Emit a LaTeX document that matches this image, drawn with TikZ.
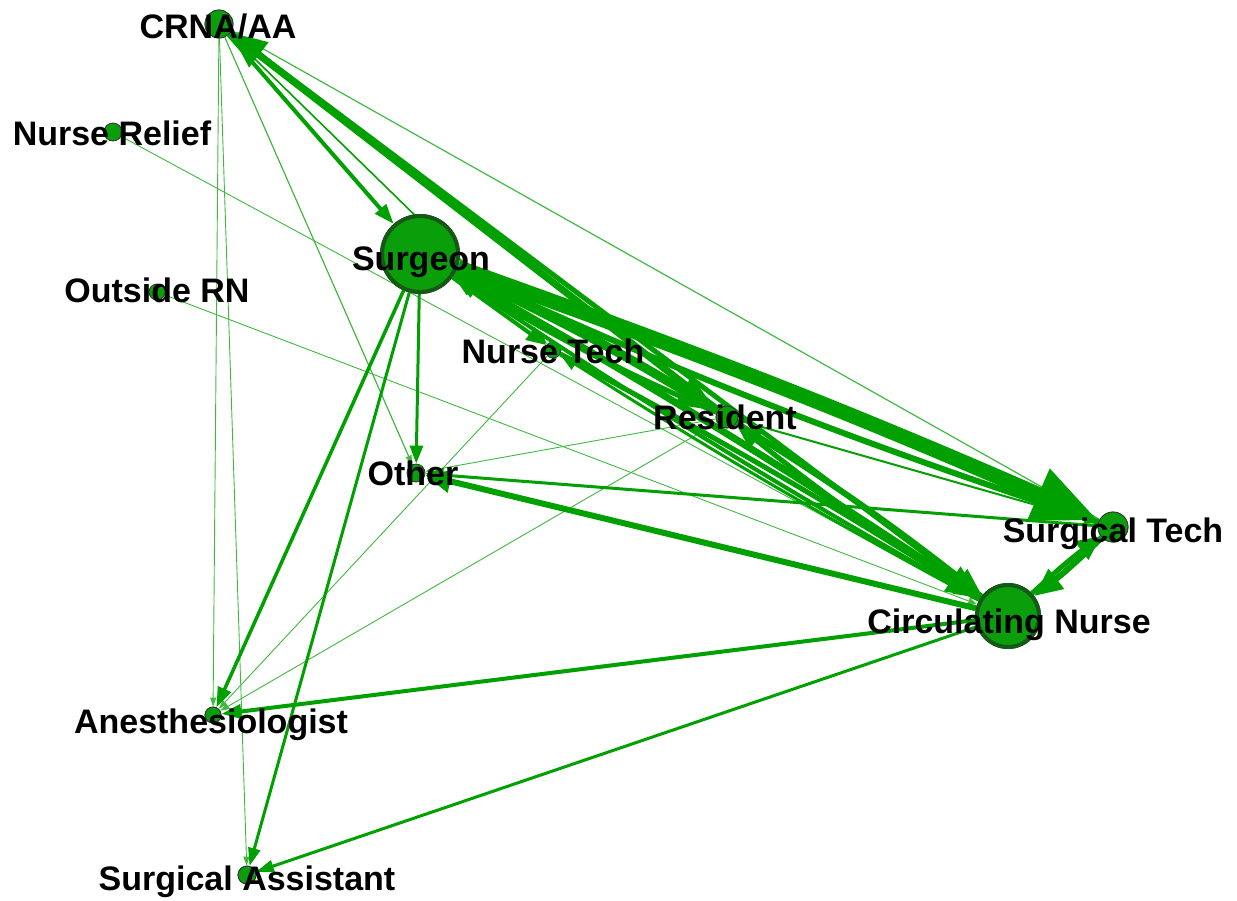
\documentclass[tikz,border=0pt]{standalone}
\usepackage{fontspec}
\setmainfont{Liberation Sans}
\usetikzlibrary{arrows.meta}
\definecolor{edgegreen}{RGB}{0,160,0}
\definecolor{nodegreen}{RGB}{10,158,10}
\definecolor{rimgreen}{RGB}{22,88,22}
\begin{document}
\begin{tikzpicture}[x=1pt,y=-1pt,
  vert/.style={circle,draw=black!80,line width=0.8pt,fill=nodegreen,inner sep=0pt,minimum size=#1},
  bigvert/.style={circle,draw=rimgreen,line width=4pt,fill=nodegreen,inner sep=0pt,minimum size=#1},
  lbl/.style={anchor=base,font=\fontsize{34}{40}\selectfont\bfseries,text=black,inner sep=0pt},
  rel/.style n args={3}{draw=edgegreen,line width=#1,-{Triangle[length=#2,width=#3]}},
  faint/.style={draw=edgegreen!75,line width=0.9,-{Triangle[length=9,width=6]}},
]
\useasboundingbox (0,0) rectangle (1237,900);

% actors
\node[vert=28] (crna)  at (219,24)  {};
\node[vert=18] (nrel)  at (113,132) {};
\node[vert=16] (orn)   at (157,292) {};
\node[bigvert=76] (surg) at (420,254) {};
\node[vert=16] (nt)    at (553,350) {};
\node[vert=22] (res)   at (727,417) {};
\node[vert=18] (oth)   at (416,473) {};
\node[vert=30] (st)    at (1113,527) {};
\node[bigvert=62] (circ) at (1008,616) {};
\node[vert=16] (anes)  at (213,715) {};
\node[vert=18] (sa)    at (247,875) {};

% weak ties
\draw[faint] (crna) -- (anes);
\draw[faint] (crna) -- (sa);
\draw[faint,line width=1.2] (crna) -- (oth);
\draw[faint,line width=1.2] (st) -- (crna);
\draw[rel={1.6}{12}{8}] (crna) -- (nt);
\draw[faint] (nrel) -- (circ);
\draw[faint] (orn) -- (circ);
\draw[faint] (nt) -- (anes);
\draw[faint] (res) -- (anes);
\draw[faint] (res) -- (oth);
\draw[rel={2}{14}{10}] (res) -- (st);

% medium ties
\draw[rel={4}{20}{14}] (crna) -- (surg);
\draw[rel={3}{18}{13}] (surg) -- (oth);
\draw[rel={3.5}{20}{14}] (surg) -- (anes);
\draw[rel={3}{18}{12}] (surg) -- (sa);
\draw[rel={4}{20}{14}] (circ) -- (anes);
\draw[rel={3}{18}{12}] (circ) -- (sa);
\draw[rel={6}{26}{22}] (circ) -- (oth);
\draw[rel={3}{18}{14}] (st) -- (oth);

% strong ties
\draw[rel={15}{66}{52}] (surg) to[bend left=2] (st);
\draw[rel={6}{30}{26}] (st) to[bend left=3] (surg);
\draw[rel={9}{40}{30}] (surg) to[bend left=3] (res);
\draw[rel={5}{26}{20}] (res) to[bend left=4] (surg);
\draw[rel={7}{34}{28}] (surg) to[bend left=2] (circ);
\draw[rel={4}{22}{16}] (circ) to[bend left=2] (surg);
\draw[rel={4}{20}{15}] (surg) -- (nt);
\draw[rel={7}{36}{30}] (res) -- (crna);
\draw[rel={5}{28}{22}] (circ) -- (crna);
\draw[rel={5}{26}{20}] (circ) to[bend left=3] (res);
\draw[rel={6}{28}{22}] (res) to[bend left=3] (circ);
\draw[rel={5}{26}{20}] (nt) to[bend left=2] (circ);
\draw[rel={3}{18}{13}] (circ) to[bend left=2] (nt);
\draw[rel={5}{24}{22}] (circ) to[bend left=3] (st);
\draw[rel={6}{28}{24}] (st) to[bend left=3] (circ);

% redraw the actors above the ties
\node[vert=28] at (crna) {};
\node[bigvert=76] at (surg) {};
\node[bigvert=62] at (circ) {};
\node[vert=30] at (st) {};
\node[vert=22] at (res) {};
\node[vert=16] at (anes) {};
\node[vert=18] at (sa) {};

% labels
\node[lbl] (lcrna) at (218,38)  {CRNA/AA};
\node[lbl] (lnrel) at (112,145) {Nurse Relief};
\node[lbl] (lorn)  at (157,302) {Outside RN};
\node[lbl] (lsurg) at (421,270) {Surgeon};
\node[lbl] (lnt)   at (553,363) {Nurse Tech};
\node[lbl] (lres)  at (725,429) {Resident};
\node[lbl] (loth)  at (413,485) {Other};
\node[lbl] (lst)   at (1113,542) {Surgical Tech};
\node[lbl] (lcirc) at (1009,633) {Circulating Nurse};
\node[lbl] (lanes) at (211,733) {Anesthesiologist};
\node[lbl] (lsa)   at (247,890) {Surgical Assistant};
\end{tikzpicture}
\end{document}
